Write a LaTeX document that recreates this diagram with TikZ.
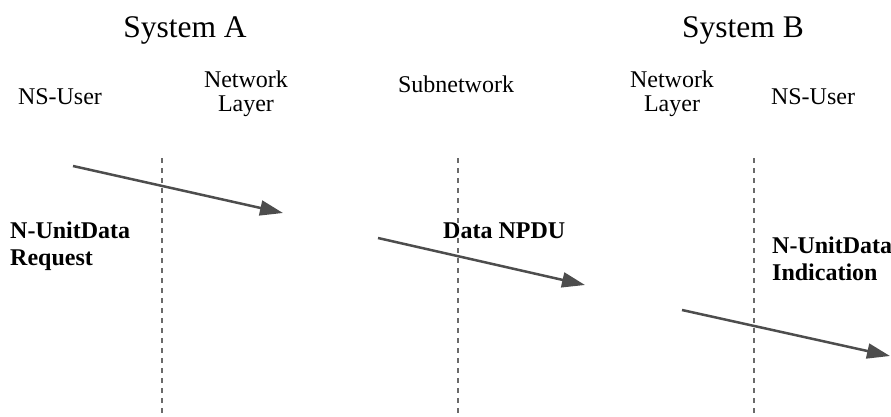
\documentclass[tikz,border=0pt]{standalone}
\usepackage{fontspec}
\setmainfont{Liberation Serif}
\newfontfamily\timesfont{Liberation Serif}
\usetikzlibrary{arrows.meta}
\definecolor{msg-gray}{HTML}{4D4D4D}
\definecolor{bound-gray}{HTML}{6A6A6A}
\begin{document}
\begin{tikzpicture}[x=1pt, y=-1pt,
  every node/.style={inner sep=0pt},
  title/.style={font=\timesfont\fontsize{31.5}{37}\selectfont, anchor=base},
  layer/.style={font=\timesfont\fontsize{24}{24}\selectfont, align=center, anchor=base},
  prim/.style={font=\timesfont\bfseries\fontsize{24}{27}\selectfont, align=left, anchor=base west},
  msg/.style={-{Triangle[length=23pt, width=15pt]}, line width=2.5pt, color=msg-gray},
  bound/.style={dash pattern=on 5pt off 5pt, line width=1.3pt, color=bound-gray}]
  \useasboundingbox (0,0) rectangle (891,417);
  % system titles
  \node[title] (sysA) at (185,38) {System A};
  \node[title] (sysB) at (743,38) {System B};
  % layer headings (base = last line)
  \node[layer] (userA) at (60,105) {NS-User};
  \node[layer] (netA) at (246,112) {Network\\Layer};
  \node[layer] (subnet) at (456,93) {Subnetwork};
  \node[layer] (netB) at (672,112) {Network\\Layer};
  \node[layer] (userB) at (813,105) {NS-User};
  % layer boundaries
  \foreach \i/\x in {1/162,2/458,3/754} {
    \coordinate (top\i) at (\x,158);
    \coordinate (bot\i) at (\x,417);
    \draw[bound] (top\i) -- (bot\i);
  }
  % primitives
  \node[prim] (req) at (10,265) {N-UnitData\\Request};
  \node[prim] (npdu) at (443,238) {Data NPDU};
  \node[prim] (ind) at (772,280) {N-UnitData\\Indication};
  % messages
  \foreach \i/\sx/\sy/\ex/\ey in {1/73/166/283/213, 2/378/238/585/285, 3/682/310/890/356} {
    \coordinate (from\i) at (\sx,\sy);
    \coordinate (to\i) at (\ex,\ey);
    \draw[msg] (from\i) -- (to\i);
  }
\end{tikzpicture}
\end{document}
